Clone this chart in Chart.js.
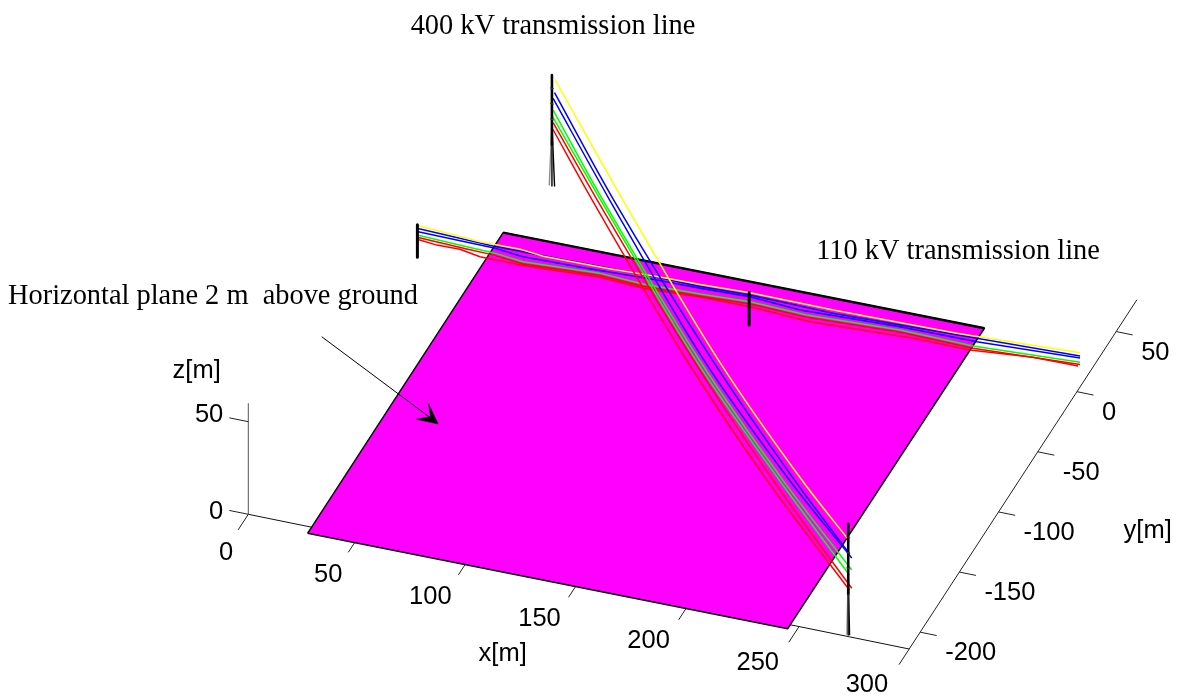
<!DOCTYPE html>
<html><head><meta charset="utf-8">
<style>html,body{margin:0;padding:0;background:#fff}canvas{display:block}</style>
<script src="https://cdn.jsdelivr.net/npm/chart.js@4"></script>
</head><body>
<canvas id="c" width="1178" height="696"></canvas>
<script>
// ---- axis ticks (metres)
const xTicks=[0,50,100,150,200,250,300];
const yTicks=[-200,-150,-100,-50,0,50];
const zTicks=[0,50];
const xRange=[0,300], yRange=[-214,76.5], zRange=[0,60];
// ---- ground plane at z = 2 m
const planeX=[29.7,247,247.3,29.5], planeY=[-221.8,-220,30,28.2], planeZ=[2,2,2,2];
// ---- 400 kV line (x, y, z in metres)
const a400YellowX=[38.3,92.5,168.4,234.9,273.3], a400YellowY=[69.5,4,-87.7,-168,-214.5], a400YellowZ=[60,50.5,42.2,45.6,51.8];
const a400Blue1X=[38,85.1,163.1,228.7,273], a400Blue1Y=[69.8,13,-81.4,-160.6,-214.1], a400Blue1Z=[52.6,42.9,37.4,39.6,44.8];
const a400Blue2X=[36.9,81.9,157,225,274.7], a400Blue2Y=[71.1,16.8,-74,-156.1,-216.2], a400Blue2Z=[48.4,39.7,30.4,35.5,44.4];
const a400Green1X=[36.9,76.5,153.3,219.7,274.7], a400Green1Y=[71.1,23.3,-69.4,-149.7,-216.2], a400Green1Z=[42.1,34.2,26.6,30.1,38];
const a400Green2X=[36.1,74.7,150.6,217,272.8], a400Green2Y=[72.1,25.5,-66.3,-146.5,-213.9], a400Green2Z=[38.1,32.3,23.9,27.3,33.3];
const a400Red1X=[36.9,72,148,211.8,274.7], a400Red1Y=[71.1,28.8,-63.1,-140.1,-216.2], a400Red1Z=[35.3,29.5,21.8,22,28.1];
const a400Red2X=[36.5,68,143.2,207,272.8], a400Red2Y=[71.7,33.6,-57.3,-134.3,-213.9], a400Red2Z=[31.4,25.4,16.3,17,25.2];
// ---- 110 kV line, all at y = 0
const b110Y=0;
const b110YellowX=[0.5,29,47.9,57.7,86.5,113.8,128.9,151.6,189.4,245.4,301.4], b110YellowZ=[17.1,15.3,15.6,14.4,14.9,16.1,16.4,17.4,17.3,18.3,21.4];
const b110Blue1X=[0.4,34.9,57.6,113.9,128.9,151.6,189.2,254.5,301.4], b110Blue1Z=[15.6,14.4,14.6,15.6,15.3,16.2,15.5,17.8,19.6];
const b110Blue2X=[0.4,34.9,48.5,77.4,109.2,128.9,151.6,174.3,219.7,254.5,301.4], b110Blue2Z=[13.9,13.5,11.9,12.7,14,14.4,15.3,13.6,15.6,15.9,18.5];
const b110GreenX=[0.5,23,34.9,48.5,83.5,103,128.9,151.6,177.3,219.7,252.8,301.4], b110GreenZ=[12,11.1,10.8,9.2,11.4,10.4,11.3,12.6,11.7,13.8,13.2,16.2];
const b110Red1X=[0.5,23,34.9,48.5,83.5,103,128.9,151.6,177.3,219.7,252.8,301.4], b110Red1Z=[10.8,9.9,9.6,8,10.2,9.2,10.1,11.4,10.5,12.6,12,15];
const b110Red2X=[0.5,9.4,19.9,29,47.2,83.5,103.1,128.9,151.6,178.8,225.6,251.4,280,300.5], b110Red2Z=[9.7,8.7,9,7.2,7.1,9.3,8.1,9.7,9.9,8.4,10.8,10.7,13.7,14];
// ---- towers
const towers400X=[35.9,271.9], towers400Y=[72.4,-212.8], towers400Top=[60,60], towers400Leg=[1.2,0.6];
const towers110X=[0.6,151.2], towers110Y=[0,0], towers110Top=[17.5,17.5];
// ---- arrow annotation, in page units of the hidden scales
const arrowLineX=[321.7,436], arrowLineY=[336.7,422];
const arrowHeadX=[438.3,428.3,430.5,416],arrowHeadY=[424,403.3,416.5,419.3];

// fixed view of the 3-D scene
function px(x,y,z){return 248.3+2.203*x+0.784*(y+214);}
function py(x,y,z){return 514.3+0.449*x-1.2024*(y+214)-1.852*z;}
function pts(xs,ys,zs){return xs.map((v,i)=>{
  const Y=Array.isArray(ys)?ys[i]:ys, Z=Array.isArray(zs)?zs[i]:zs;
  return {x:px(v,Y,Z),y:py(v,Y,Z)};});}

const layers=[];
function add(data,color,width,extra){layers.push(Object.assign({data,borderColor:color,borderWidth:width,
  showLine:true,pointRadius:0,fill:false,tension:0,clip:false,borderJoinStyle:'round'},extra||{}));}

// axes and ticks
add(pts(xRange,yRange[0],0),'#111',1);
add(pts([xRange[1],xRange[1]],yRange,0),'#222',1);
add(pts([0,0],yRange[0],zRange),'#555',1);
xTicks.forEach(t=>add(pts([t,t],[yRange[0],yRange[0]-13],0),'#222',1));
yTicks.forEach(t=>add(pts([300,307.5],t,0),'#222',1));
zTicks.forEach(t=>add(pts([0,-8.6],yRange[0],t),'#222',1));
// plane
add(pts(planeX.concat(planeX[0]),planeY.concat(planeY[0]),planeZ.concat(planeZ[0])),'#000',1.5,
   {fill:'shape',backgroundColor:'#ff00ff'});
add(pts(planeX.slice(2),planeY.slice(2),planeZ.slice(2)),'#000',2.4);
// 110 kV
const w=1.5, smooth={cubicInterpolationMode:'monotone'};
add(pts(b110Red2X,b110Y,b110Red2Z),'#ff0000',w);
add(pts(b110Red1X,b110Y,b110Red1Z),'#ff0000',w);
add(pts(b110GreenX,b110Y,b110GreenZ),'#00ff00',w);
add(pts(b110Blue2X,b110Y,b110Blue2Z),'#0000ff',w);
add(pts(b110Blue1X,b110Y,b110Blue1Z),'#0000ff',w);
add(pts(b110YellowX,b110Y,b110YellowZ),'#ffff00',w);
// 400 kV
add(pts(a400Red2X,a400Red2Y,a400Red2Z),'#ff0000',w,smooth);
add(pts(a400Red1X,a400Red1Y,a400Red1Z),'#ff0000',w,smooth);
add(pts(a400Green2X,a400Green2Y,a400Green2Z),'#00ff00',w,smooth);
add(pts(a400Green1X,a400Green1Y,a400Green1Z),'#00ff00',w,smooth);
add(pts(a400Blue2X,a400Blue2Y,a400Blue2Z),'#0000ff',w,smooth);
add(pts(a400Blue1X,a400Blue1Y,a400Blue1Z),'#0000ff',w,smooth);
add(pts(a400YellowX,a400YellowY,a400YellowZ),'#ffff00',w,smooth);
// towers
towers400X.forEach((tx,i)=>{
  const ty=towers400Y[i], top=towers400Top[i], leg=towers400Leg[i];
  add(pts([tx-leg,tx],ty,[0,34]),'#888',1.4);
  add(pts([tx+leg,tx],ty,[0,34]),'#000',1.4);
  add(pts([tx,tx],ty,[top,22]),'#000',2.6);
  add(pts([tx,tx],ty,[22,0]),'#222',1.6);
  [0.88,0.74,0.6].forEach(f=>add(pts([tx-0.9,tx+0.9],ty,top*f),'#444',1));
});
towers110X.forEach((tx,i)=>add(pts([tx,tx],towers110Y[i],[towers110Top[i],0]),'#000',3));
// arrow
add(arrowLineX.map((v,i)=>({x:v,y:arrowLineY[i]})),'#000',1);
add(arrowHeadX.concat(arrowHeadX[0]).map((v,i)=>({x:v,y:arrowHeadY.concat(arrowHeadY[0])[i]})),'#000',0.5,
   {fill:'shape',backgroundColor:'#000'});
layers.forEach((d,i)=>{d.order=layers.length-i;});

const sans="25.5px 'Liberation Sans', Arial, sans-serif";
const serif="28.4px 'Liberation Serif', 'Times New Roman', serif";
const textPlugin={id:'sceneText',afterDatasetsDraw(ch){
  const c=ch.ctx, sx=ch.scales.x, sy=ch.scales.y;
  const put=(s,X,Y,al,f)=>{c.font=f||sans;c.textAlign=al;c.textBaseline='middle';c.fillStyle='#000';
    c.fillText(s,sx.getPixelForValue(X),sy.getPixelForValue(Y));};
  c.save();
  xTicks.forEach(t=>put(String(t),px(t,yRange[0],0)-15-t*0.02,py(t,yRange[0],0)+38.5-t*0.01,'right'));
  yTicks.forEach(t=>put(String(t),px(300,t,0)+25,py(300,t,0)+21,'left'));
  zTicks.forEach(t=>put(String(t),px(0,yRange[0],t)-25,py(0,yRange[0],t)-2.8-t*0.08,'right'));
  put('x[m]',502.7,654,'center'); put('y[m]',1147.7,531,'center'); put('z[m]',196.7,370.5,'center');
  put('400 kV transmission line',553,26.5,'center',serif);
  put('110 kV transmission line',958,251.5,'center',serif);
  put('Horizontal plane 2 m  above ground',8,296.5,'left',serif);
  c.restore();
}};
new Chart(document.getElementById('c'),{type:'scatter',data:{datasets:layers},plugins:[textPlugin],options:{
  responsive:false,animation:false,devicePixelRatio:1,layout:{padding:0},
  plugins:{legend:{display:false},tooltip:{enabled:false},title:{display:false}},
  scales:{x:{type:'linear',min:0,max:1178,display:false},y:{type:'linear',min:0,max:696,reverse:true,display:false}}
}});
</script>
</body></html>
